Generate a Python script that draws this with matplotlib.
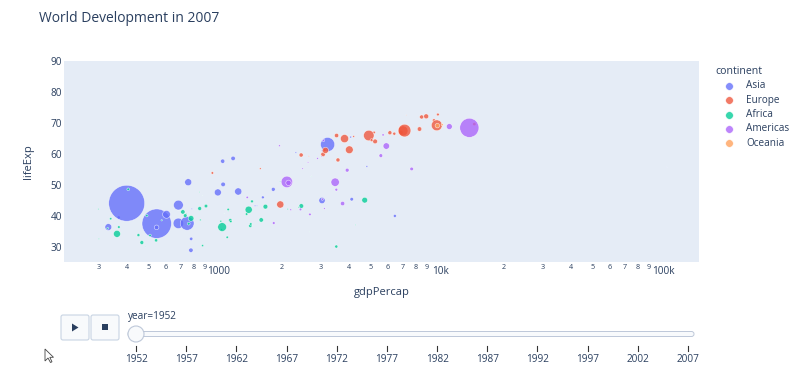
import matplotlib
matplotlib.use("Agg")
import matplotlib.pyplot as plt
from matplotlib.patches import FancyBboxPatch, Circle, Polygon
from matplotlib.transforms import ScaledTranslation
import numpy as np

plt.rcParams['font.family'] = ['Open Sans', 'DejaVu Sans']

# ---------------- data (gapminder, frame year=1952) ----------------
continent_names = ["Asia", "Europe", "Africa", "Americas", "Oceania"]
continent_colors = ["#636efa", "#EF553B", "#00cc96", "#ab63fa", "#FFA15A"]

asia_gdp = [779.4, 9867.1, 684.2, 368.5, 400.4, 3054.4, 546.6, 749.7, 3035.3, 4129.8, 4086.5, 3217.0,
            1546.9, 1088.3, 1030.6, 108382.4, 4834.8, 1831.1, 786.6, 331.0, 545.9, 1828.2, 684.6,
            1272.9, 6459.6, 2315.1, 1083.5, 1643.5, 1207.0, 757.8, 605.1, 1515.6, 781.7]
asia_life = [28.8, 50.9, 37.5, 39.4, 44.0, 61.0, 37.4, 37.5, 44.9, 45.3, 65.4, 63.0,
             43.2, 50.1, 47.5, 55.6, 55.9, 48.5, 42.2, 36.3, 36.2, 37.6, 43.4,
             47.8, 39.9, 60.4, 57.6, 45.9, 58.5, 50.8, 40.4, 43.2, 32.5]
asia_pop = [8.43, 0.12, 46.89, 4.69, 556.26, 2.13, 372.0, 82.05, 17.27, 5.44, 1.62, 86.46,
            0.61, 8.87, 20.95, 0.16, 1.44, 6.75, 0.80, 20.09, 9.18, 0.51, 41.35,
            22.44, 4.01, 1.13, 7.98, 3.66, 8.55, 21.29, 26.25, 1.03, 4.96]

europe_gdp = [1601.1, 6137.1, 8343.1, 973.5, 2444.3, 3119.2, 6876.1, 9692.4, 6424.5, 7029.8, 7144.1,
              3530.7, 5263.7, 7267.7, 5210.3, 4931.4, 2647.6, 8941.6, 10095.4, 4029.3, 3068.3,
              3144.6, 3581.5, 5074.7, 4215.0, 3834.0, 8527.8, 14734.2, 1969.1, 9979.5]
europe_life = [55.2, 66.8, 68.0, 53.8, 59.6, 61.2, 66.9, 70.8, 66.5, 67.4, 67.5,
               65.9, 64.0, 72.5, 66.9, 65.9, 59.2, 72.1, 72.7, 61.3, 59.8,
               61.1, 58.0, 64.4, 65.6, 64.9, 71.9, 69.6, 43.6, 69.2]
europe_pop = [1.28, 6.93, 8.73, 2.79, 7.27, 3.88, 9.13, 4.33, 4.09, 42.46, 69.15,
              7.73, 9.50, 0.15, 2.95, 47.67, 0.41, 10.38, 3.33, 25.73, 8.53,
              16.63, 6.86, 3.56, 1.49, 28.55, 7.12, 4.82, 22.24, 50.43]

africa_gdp = [2449.0, 3520.6, 1062.8, 851.2, 543.3, 339.3, 1172.7, 1071.3, 1178.7, 1103.0, 780.5,
              2125.6, 1388.6, 2669.5, 1418.8, 375.6, 328.9, 362.1, 4293.5, 485.2, 911.3, 510.2,
              299.9, 853.5, 298.8, 575.6, 2387.5, 1443.0, 369.2, 452.3, 743.1, 1968.0, 1688.2,
              468.5, 2423.8, 761.9, 1077.3, 2718.9, 493.3, 879.6, 1450.4, 879.8, 1135.7, 4725.3,
              1616.0, 1148.4, 716.7, 859.8, 1468.5, 734.8, 1147.4, 406.9]
africa_life = [43.1, 30.0, 38.2, 47.6, 32.0, 39.0, 38.5, 35.5, 38.1, 40.7, 39.1,
               42.1, 40.5, 34.8, 41.9, 34.5, 35.9, 34.1, 37.0, 30.0, 43.1, 33.6,
               32.5, 42.3, 42.1, 38.5, 42.7, 36.7, 36.3, 33.7, 40.5, 51.0, 42.9,
               31.3, 41.7, 37.4, 36.3, 52.7, 40.0, 46.5, 37.3, 30.3, 33.0, 45.0,
               38.6, 41.4, 41.2, 38.6, 44.6, 40.0, 42.0, 48.5]
africa_pop = [9.28, 4.23, 1.74, 0.44, 4.47, 2.45, 5.01, 1.29, 2.68, 0.15, 14.10,
              0.85, 2.98, 0.06, 22.22, 0.22, 1.44, 20.86, 0.42, 0.28, 5.58, 2.66,
              0.58, 6.46, 0.75, 0.86, 1.02, 4.76, 2.92, 3.84, 1.02, 0.52, 9.94,
              6.45, 0.49, 3.38, 33.12, 0.26, 2.53, 0.06, 2.76, 2.14, 2.53, 14.26,
              8.50, 0.29, 8.32, 1.22, 3.65, 5.82, 2.67, 3.08]

americas_gdp = [5911.3, 2677.3, 2108.9, 11367.2, 3940.0, 2144.1, 2627.0, 5586.5, 1397.7, 3522.1,
                3048.3, 2428.2, 1840.4, 2194.9, 2898.5, 3478.1, 3112.4, 2480.4, 1952.3, 3758.5,
                3082.0, 3023.3, 13990.5, 5716.8, 7689.8]
americas_life = [62.5, 40.4, 50.9, 68.8, 54.7, 50.6, 57.2, 59.4, 45.9, 48.4,
                 45.3, 42.0, 37.6, 41.9, 58.5, 50.8, 42.3, 55.2, 62.6, 43.9,
                 64.3, 59.1, 68.4, 66.1, 55.1]
americas_pop = [17.88, 2.88, 56.60, 14.79, 6.38, 12.35, 0.93, 6.01, 2.49, 3.55,
                2.04, 3.15, 3.20, 1.52, 1.43, 30.14, 1.17, 0.94, 1.56, 8.03,
                2.23, 0.66, 157.55, 2.25, 5.44]

oceania_gdp = [10039.6, 10556.6]
oceania_life = [69.1, 69.4]
oceania_pop = [8.69, 1.99]

years = [1952, 1957, 1962, 1967, 1972, 1977, 1982, 1987, 1992, 1997, 2002, 2007]
current_year = 1952
minor_digits = [2, 3, 4, 5, 6, 7, 8, 9]
major_ticks = [1000, 10000, 100000]
major_labels = ["1000", "10k", "100k"]
y_ticks = [30, 40, 50, 60, 70, 80, 90]

series = [(asia_gdp, asia_life, asia_pop), (europe_gdp, europe_life, europe_pop),
          (africa_gdp, africa_life, africa_pop), (americas_gdp, americas_life, americas_pop),
          (oceania_gdp, oceania_life, oceania_pop)]

# ---------------- figure ----------------
W, H = 800, 380
fig = plt.figure(figsize=(8, 3.8), dpi=100)
fig.patch.set_facecolor("white")
TXT = "#2a3f5f"

L, R, T, B = 64, 699, 61, 262
ax = fig.add_axes([L / W, 1 - B / H, (R - L) / W, (B - T) / H])
ax.set_facecolor("#E5ECF6")
for s in ax.spines.values():
    s.set_visible(False)
ax.set_xscale("log")
ax.set_xlim(209, 151400)
ax.set_ylim(25, 90)

POP_MAX = 556.26  # millions -> 36 px diameter
D_MAX_PX = 36.0
for (gx, ly, pp), col in zip(series, continent_colors):
    d_px = D_MAX_PX * np.sqrt(np.array(pp) / POP_MAX)
    s = (d_px * 0.72) ** 2
    ax.scatter(gx, ly, s=s, color=col, alpha=0.78, edgecolors="white", linewidths=0.4, zorder=3)

# ticks
ax.set_yticks(y_ticks)
ax.set_yticklabels([str(v) for v in y_ticks])
ax.tick_params(axis="y", length=0, pad=1.5, labelsize=7.2, labelcolor=TXT)
ax.set_xticks(major_ticks)
ax.set_xticklabels(major_labels)
minor_pos = [d * 10 ** e for e in [2, 3, 4] for d in minor_digits]
minor_pos = [m for m in minor_pos if 209 <= m <= 151400]
ax.set_xticks(minor_pos, minor=True)
ax.set_xticklabels([str(int(round(m / 10 ** int(np.floor(np.log10(m)))))) for m in minor_pos], minor=True)
ax.tick_params(axis="x", which="major", length=0, pad=3.2, labelsize=7.2, labelcolor=TXT)
ax.tick_params(axis="x", which="minor", length=0, pad=1.3, labelsize=5.2, labelcolor=TXT)
shift = ScaledTranslation(4 / 100, 0, fig.dpi_scale_trans)
for lab in ax.get_xticklabels(which="major"):
    lab.set_transform(lab.get_transform() + shift)
ax.grid(False)
ax.set_ylabel("lifeExp", color=TXT, fontsize=8, labelpad=12)
ax.set_xlabel("gdpPercap", color=TXT, fontsize=8, labelpad=7)

fig.text(39 / W, 1 - 19 / H, "World Development in 2007", fontsize=10, color=TXT,
         ha="left", va="center")

# ---------------- overlay for legend / slider ----------------
ov = fig.add_axes([0, 0, 1, 1], facecolor="none")
ov.set_xlim(0, W)
ov.set_ylim(H, 0)
ov.axis("off")

# legend
ov.text(715, 72, "continent", fontsize=7.6, color=TXT, ha="left", va="center")
for i, (name, col) in enumerate(zip(continent_names, continent_colors)):
    yy = 86 + i * 14.3
    ov.scatter([729], [yy], s=30, color=col, alpha=0.78, edgecolors="white", linewidths=0.4)
    ov.text(746, yy, name, fontsize=7.2, color=TXT, ha="left", va="center")

# buttons
for x0 in (61, 91):
    ov.add_patch(FancyBboxPatch((x0, 315), 28, 25, boxstyle="round,pad=0,rounding_size=2",
                                facecolor="#f8fafc", edgecolor="#c8d4e3", linewidth=0.8))
ov.add_patch(Polygon([[72, 323.5], [72, 331.5], [78.5, 327.5]], closed=True, facecolor=TXT, edgecolor="none"))
ov.add_patch(FancyBboxPatch((102, 324), 6, 6, boxstyle="square,pad=0", facecolor=TXT, edgecolor="none"))

# slider
ov.text(128, 316, "year=%d" % current_year, fontsize=7.2, color=TXT, ha="left", va="center")
ov.add_patch(FancyBboxPatch((128, 331.5), 566, 5, boxstyle="round,pad=0,rounding_size=2.5",
                            facecolor="#f8fafc", edgecolor="#bec8d9", linewidth=0.7))
tick_x = np.linspace(136, 688, len(years))
for xx, yr in zip(tick_x, years):
    ov.plot([xx, xx], [346, 350.5], color="#333333", linewidth=0.8)
    ov.text(xx, 360, str(yr), fontsize=7.2, color=TXT, ha="center", va="center")
hx = tick_x[years.index(current_year)]
ov.add_patch(Circle((hx, 334), 8, facecolor="#f8fafc", edgecolor="#bec8d9", linewidth=0.8))

# mouse pointer
ov.add_patch(Polygon([[45, 349], [45, 361], [48, 358], [50.5, 362.5], [52, 361.8], [49.8, 357.3], [53.5, 357.3]],
                     closed=True, facecolor="white", edgecolor="#444444", linewidth=0.6))

fig.savefig("out.png", dpi=100)
